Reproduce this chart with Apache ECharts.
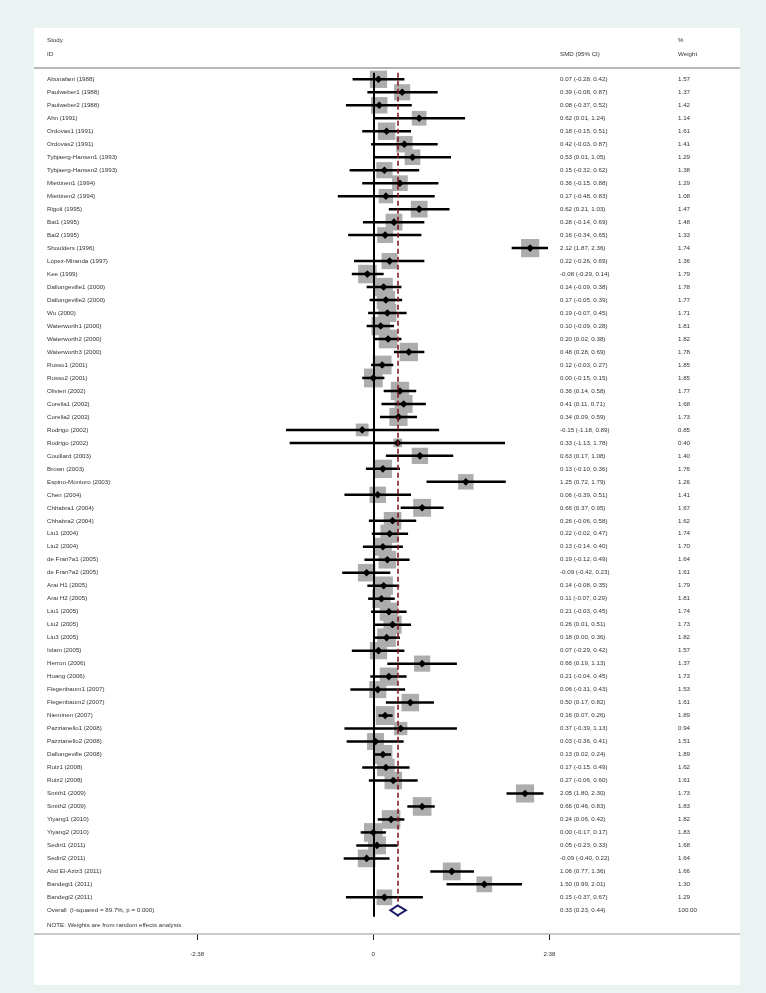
<!DOCTYPE html>
<html>
<head>
<meta charset="utf-8">
<script src="https://cdn.jsdelivr.net/npm/echarts@6/dist/echarts.min.js"></script>
<style>
html,body{margin:0;padding:0;background:#eaf2f2;}
#chart{width:766px;height:993px;}
</style>
</head>
<body>
<div id="chart"></div>
<script>
const studies = [
 "Abunafani (1988)","Paulweber1 (1988)","Paulweber2 (1988)","Ahn (1991)","Ordovas1 (1991)","Ordovas2 (1991)",
 "Tybjaerg-Hansen1 (1993)","Tybjaerg-Hansen2 (1993)","Miettinen1 (1994)","Miettinen2 (1994)","Rigoli (1995)",
 "Bai1 (1995)","Bai2 (1995)","Shoulders (1996)","López-Miranda (1997)","Kee (1999)","Dallongeville1 (2000)",
 "Dallongeville2 (2000)","Wu (2000)","Waterworth1 (2000)","Waterworth2 (2000)","Waterworth3 (2000)",
 "Russo1 (2001)","Russo2 (2001)","Olivieri (2002)","Corella1 (2002)","Corella2 (2002)","Rodrigo (2002)",
 "Rodrigo (2002)","Couillard (2003)","Brown (2003)","Espino-Montoro (2003)","Chen (2004)","Chhabra1 (2004)",
 "Chhabra2 (2004)","Liu1 (2004)","Liu2 (2004)","de Fran?a1 (2005)","de Fran?a2 (2005)","Arai H1 (2005)",
 "Arai H2 (2005)","Liu1 (2005)","Liu2 (2005)","Liu3 (2005)","Islam (2005)","Herron (2006)","Huang (2006)",
 "Flegenbaum1 (2007)","Flegenbaum2 (2007)","Nieminen (2007)","Pazzianello1 (2008)","Pazzianello2 (2008)",
 "Dallongeville (2008)","Ruiz1 (2008)","Ruiz2 (2008)","Smith1 (2009)","Smith2 (2009)","Yiyang1 (2010)",
 "Yiyang2 (2010)","Sediri1 (2011)","Sediri2 (2011)","Abd El-Aziz3 (2011)","Bandegi1 (2011)","Bandegi2 (2011)"
];
const smd = [0.07,0.39,0.08,0.62,0.18,0.42,0.53,0.15,0.36,0.17,0.62,0.28,0.16,2.12,0.22,-0.08,0.14,0.17,0.19,0.10,
 0.20,0.48,0.12,0.00,0.36,0.41,0.34,-0.15,0.33,0.63,0.13,1.25,0.06,0.66,0.26,0.22,0.13,0.19,-0.09,0.14,
 0.11,0.21,0.26,0.18,0.07,0.66,0.21,0.06,0.50,0.16,0.37,0.03,0.13,0.17,0.27,2.05,0.66,0.24,0.00,0.05,
 -0.09,1.06,1.50,0.15];
const lower = [-0.28,-0.08,-0.37,0.01,-0.15,-0.03,0.01,-0.32,-0.15,-0.48,0.21,-0.14,-0.34,1.87,-0.26,-0.29,-0.09,-0.05,-0.07,-0.09,
 0.02,0.28,-0.03,-0.15,0.14,0.11,0.09,-1.18,-1.13,0.17,-0.10,0.72,-0.39,0.37,-0.06,-0.02,-0.14,-0.12,-0.42,-0.08,
 -0.07,-0.03,0.01,0.00,-0.29,0.19,-0.04,-0.31,0.17,0.07,-0.39,-0.36,0.02,-0.15,-0.06,1.80,0.46,0.06,-0.17,-0.23,
 -0.40,0.77,0.99,-0.37];
const upper = [0.42,0.87,0.52,1.24,0.51,0.87,1.05,0.62,0.88,0.83,1.03,0.69,0.65,2.36,0.69,0.14,0.38,0.39,0.45,0.28,
 0.38,0.69,0.27,0.15,0.58,0.71,0.59,0.89,1.78,1.08,0.36,1.79,0.51,0.95,0.58,0.47,0.40,0.49,0.23,0.35,
 0.29,0.45,0.51,0.36,0.42,1.13,0.45,0.43,0.82,0.26,1.13,0.41,0.24,0.49,0.60,2.30,0.83,0.42,0.17,0.33,
 0.22,1.36,2.01,0.67];
const weights = [1.57,1.37,1.42,1.14,1.61,1.41,1.29,1.38,1.29,1.08,1.47,1.48,1.33,1.74,1.36,1.79,1.78,1.77,1.71,1.81,
 1.82,1.78,1.85,1.85,1.77,1.68,1.73,0.85,0.40,1.40,1.76,1.26,1.41,1.67,1.62,1.74,1.70,1.64,1.61,1.79,
 1.81,1.74,1.73,1.82,1.57,1.37,1.73,1.53,1.61,1.89,0.94,1.51,1.89,1.62,1.61,1.73,1.83,1.82,1.83,1.68,
 1.64,1.66,1.30,1.29];
const overallLabel = "Overall  (I-squared = 89.7%, p = 0.000)";
const overallSmd = 0.33, overallLower = 0.23, overallUpper = 0.44, overallWeight = 100.00;
const xTicks = [-2.38, 0, 2.38];
const headerLeft = ["Study", "ID"];
const headerMid = "SMD (95% CI)";
const headerRight = ["%", "Weight"];
const noteText = "NOTE: Weights are from random effects analysis";

// layout constants
const PX_PER_UNIT = 74.0, ZERO_X = 373.3;
const PANEL_L = 34, PANEL_R = 740;
const ROW0 = 79.3, ROW_H = 12.985;
const nRows = studies.length + 1;
const FONT = "'Liberation Sans', Arial, sans-serif";
const FS = 6.2;
const TXT = '#333';
const COL_LABEL = 47, COL_SMD = 560, COL_W = 678;

const fmt = v => v.toFixed(2);
const studyData = studies.map((s, i) => [smd[i], lower[i], upper[i], weights[i], i]);

function renderStudy(params, api) {
  const i = api.value(4);
  const est = api.value(0), lo = api.value(1), hi = api.value(2), w = api.value(3);
  const c = api.coord([est, i]);
  const l = api.coord([lo, i]);
  const h = api.coord([hi, i]);
  const size = Math.sqrt(w) * 13.8;
  const r = 3.8;
  const tstyle = (txt, x) => ({type: 'text', x: x, y: c[1], style: {text: txt, fill: TXT, font: FS + 'px ' + FONT, verticalAlign: 'middle'}});
  return {
    type: 'group',
    children: [
      {type: 'rect', shape: {x: c[0] - size / 2, y: c[1] - size / 2, width: size, height: size}, style: {fill: '#adadad'}},
      {type: 'line', shape: {x1: l[0], y1: c[1], x2: h[0], y2: c[1]}, style: {stroke: '#000', lineWidth: 2.5}},
      {type: 'polygon', shape: {points: [[c[0] - r, c[1]], [c[0], c[1] - r], [c[0] + r, c[1]], [c[0], c[1] + r]]}, style: {fill: '#000'}},
      tstyle(studies[i], COL_LABEL),
      tstyle(fmt(est) + ' (' + fmt(lo) + ', ' + fmt(hi) + ')', COL_SMD),
      tstyle(fmt(w), COL_W)
    ]
  };
}

function renderOverall(params, api) {
  const i = api.value(4);
  const est = api.value(0), lo = api.value(1), hi = api.value(2), w = api.value(3);
  const c = api.coord([est, i]);
  const l = api.coord([lo, i]);
  const h = api.coord([hi, i]);
  const hh = 5;
  const tstyle = (txt, x) => ({type: 'text', x: x, y: c[1], style: {text: txt, fill: TXT, font: FS + 'px ' + FONT, verticalAlign: 'middle'}});
  return {
    type: 'group',
    children: [
      {type: 'polygon', shape: {points: [[l[0], c[1]], [c[0], c[1] - hh], [h[0], c[1]], [c[0], c[1] + hh]]}, style: {fill: '#fff', stroke: '#1c1c6e', lineWidth: 2}},
      tstyle(overallLabel, COL_LABEL),
      tstyle(fmt(est) + ' (' + fmt(lo) + ', ' + fmt(hi) + ')', COL_SMD),
      tstyle(fmt(w), COL_W)
    ]
  };
}

const gridTop = ROW0 - ROW_H * 0.5;
const xMin = (PANEL_L - ZERO_X) / PX_PER_UNIT;
const xMax = (PANEL_R - ZERO_X) / PX_PER_UNIT;
const axisLeft = ZERO_X + xTicks[0] * PX_PER_UNIT;
const axisWidth = (xTicks[xTicks.length - 1] - xTicks[0]) * PX_PER_UNIT;

const chart = echarts.init(document.getElementById('chart'), null, {renderer: 'canvas'});
const textStyle = (t, x, y) => ({type: 'text', left: x, top: y, style: {text: t, fill: TXT, font: FS + 'px ' + FONT}});
chart.setOption({
  animation: false,
  backgroundColor: '#eaf2f2',
  graphic: [
    {type: 'rect', shape: {x: PANEL_L, y: 28, width: PANEL_R - PANEL_L, height: 957}, style: {fill: '#fff'}, z: -10},
    {type: 'line', shape: {x1: PANEL_L, y1: 68, x2: PANEL_R, y2: 68}, style: {stroke: '#b8b8b8', lineWidth: 2}, z: 5},
    {type: 'line', shape: {x1: PANEL_L, y1: 934, x2: PANEL_R, y2: 934}, style: {stroke: '#b8b8b8', lineWidth: 1.5}, z: 5},
    textStyle(headerLeft[0], COL_LABEL, 37),
    textStyle(headerLeft[1], COL_LABEL, 51),
    textStyle(headerMid, COL_SMD, 51),
    textStyle(headerRight[0], COL_W, 37),
    textStyle(headerRight[1], COL_W, 51),
    textStyle(noteText, COL_LABEL, 922)
  ],
  grid: [
    {left: PANEL_L, width: PANEL_R - PANEL_L, top: gridTop, height: ROW_H * nRows, containLabel: false},
    {left: axisLeft, width: axisWidth, top: 933, height: 1, containLabel: false}
  ],
  xAxis: [
    {type: 'value', gridIndex: 0, min: xMin, max: xMax, show: false},
    {type: 'value', gridIndex: 1, min: xTicks[0], max: xTicks[2], interval: xTicks[2], position: 'bottom',
     axisLine: {show: false, onZero: false},
     axisTick: {show: true, inside: false, length: 6, lineStyle: {color: '#222', width: 1}},
     splitLine: {show: false},
     axisLabel: {show: true, fontSize: FS, fontFamily: FONT, color: TXT, margin: 17,
       formatter: v => Math.abs(v) < 1e-9 ? '0' : v.toFixed(2)}}
  ],
  yAxis: [
    {type: 'value', gridIndex: 0, min: -0.5, max: nRows - 0.5, inverse: true, show: false},
    {type: 'value', gridIndex: 1, show: false}
  ],
  series: [
    {type: 'custom', xAxisIndex: 0, yAxisIndex: 0, renderItem: renderStudy, data: studyData, clip: false,
     markLine: {silent: true, symbol: 'none', label: {show: false},
       data: [
         {xAxis: 0, lineStyle: {color: '#000', width: 2, type: 'solid'}},
         {xAxis: overallSmd, lineStyle: {color: '#7a1f25', width: 1.6, type: [5, 3]}}
       ]}},
    {type: 'custom', xAxisIndex: 0, yAxisIndex: 0, renderItem: renderOverall, z: 10, clip: false,
     data: [[overallSmd, overallLower, overallUpper, overallWeight, studies.length]]}
  ]
});
</script>
</body>
</html>
